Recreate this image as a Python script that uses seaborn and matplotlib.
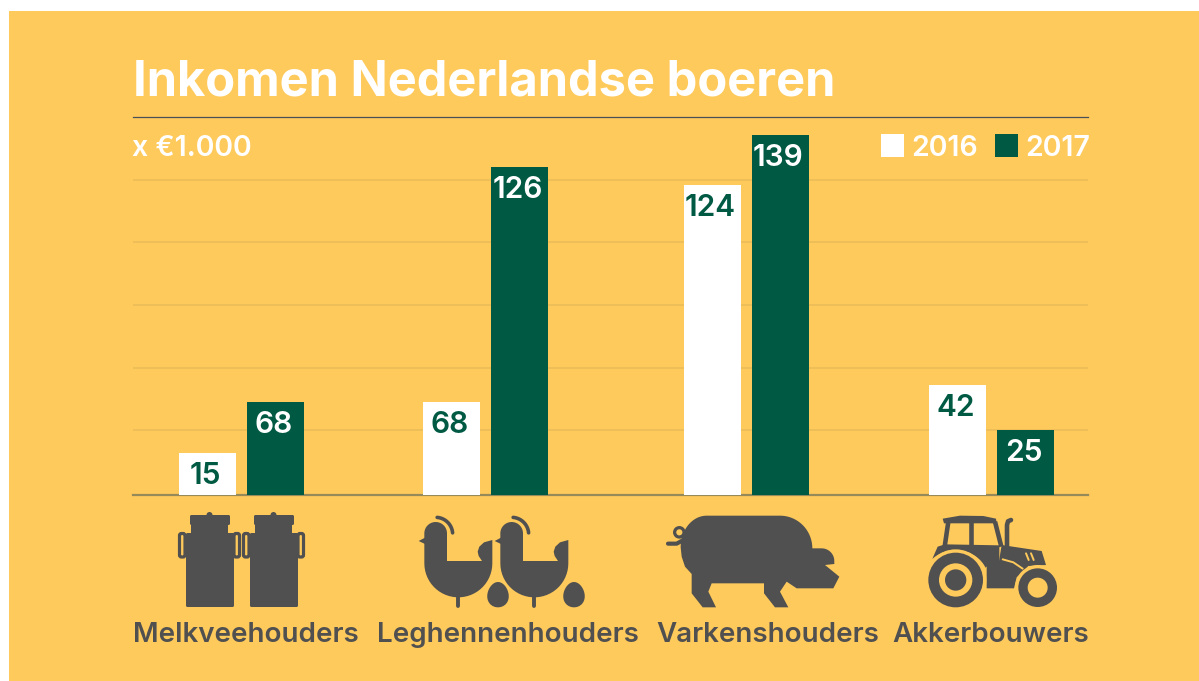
import numpy as np
import matplotlib
matplotlib.use("Agg")
import matplotlib.pyplot as plt
import pandas as pd
import seaborn as sns
from matplotlib.patches import Circle, Polygon, Rectangle, FancyBboxPatch

categories = ["Melkveehouders", "Leghennenhouders", "Varkenshouders", "Akkerbouwers"]
years = ["2016", "2017"]
# printed numbers
labels_2016 = [15, 68, 124, 42]
labels_2017 = [68, 126, 139, 25]
# heights as drawn: the printed 68s and the 124 stand lower than the scale says
heights_2016 = [16.2, 35.9, 119.7, 42.5]
heights_2017 = [35.9, 126.6, 139, 25]
grid_levels = [25, 49.2, 73.5, 97.7, 121.7]

# x axis runs in reference pixels
group_x = [241.5, 485.5, 746.5, 991.5]
label_x = [246, 507.5, 768, 991]

W, H = 1199, 681
YELLOW = "#FFCA5C"
GREEN = "#005A43"
DARK = "#505050"
FONT = ["Inter", "DejaVu Sans"]

sns.set_theme(style="white")
plt.rcParams["font.family"] = FONT

df = pd.DataFrame({
    "x": group_x * 2,
    "height": heights_2016 + heights_2017,
    "year": [years[0]] * 4 + [years[1]] * 4,
})

fig = plt.figure(figsize=(W / 100, H / 100), dpi=100, facecolor="white")
fig.patches.append(Rectangle((9 / W, 0), 1, 670 / H, transform=fig.transFigure,
                             facecolor=YELLOW, edgecolor="none", zorder=-1))

ax = fig.add_axes([133 / W, (H - 495) / H, 955 / W, 378.5 / H], facecolor="none")
sns.barplot(data=df, x="x", y="height", hue="year", hue_order=years,
            palette={"2016": "white", "2017": GREEN}, native_scale=True,
            width=136 / 244, gap=0.16, legend=False, saturation=1, linewidth=0, ax=ax, zorder=3)
ax.set_xlim(133, 1088)
ax.set_ylim(0, 378.5 / 2.59)
ax.set_xlabel("")
ax.set_ylabel("")
ax.set_yticks(grid_levels, [""] * 5)
ax.yaxis.grid(True, color="#EDBD58", linewidth=1.3)
ax.set_axisbelow(True)
ax.set_xticks(label_x, categories)
ax.tick_params(axis="x", length=0, pad=91.5, labelsize=20, labelcolor=DARK)
ax.tick_params(axis="y", length=0)
for lab in ax.get_xticklabels():
    lab.set_fontweight(600)
for s in ["left", "right"]:
    ax.spines[s].set_visible(False)
ax.spines["top"].set_color("#4A5058")
ax.spines["top"].set_linewidth(0.9)
ax.spines["bottom"].set_color("#96895A")
ax.spines["bottom"].set_linewidth(1.6)

for cont, labs, col in zip(ax.containers, [labels_2016, labels_2017], [GREEN, "white"]):
    for t in ax.bar_label(cont, labels=[str(v) for v in labs], padding=-16.5,
                          color=col, fontsize=21.5, fontweight=600):
        t.set_va("center")
        t.xyann = (-1.5, t.xyann[1])

# overlay in pixel coordinates for texts and pictograms
ov = fig.add_axes([0, 0, 1, 1], facecolor="none")
ov.set_xlim(0, W)
ov.set_ylim(H, 0)
ov.axis("off")

ov.text(133, 82, "Inkomen Nederlandse boeren", color="white", fontsize=35.2,
        fontweight=700, va="center", ha="left")
ov.text(132, 148, "x €1.000", color="white", fontsize=20.5, fontweight=600,
        va="center", ha="left")
for x0, year in zip([881, 995], years):
    ov.add_patch(Rectangle((x0, 134), 23, 23, facecolor="white" if year == "2016" else GREEN,
                           edgecolor="none"))
    ov.text(x0 + 30, 148, year, color="white", fontsize=20.5, fontweight=600,
            va="center", ha="left")


def arc_pts(cx, cy, rx, ry, a0, a1, n=30):
    a = np.radians(np.linspace(a0, a1, n))
    return np.column_stack([cx + rx * np.cos(a), cy + ry * np.sin(a)])


def zoomed(pts, ox):
    # zoom crops were 3x, with y starting at 490
    return np.asarray(pts) / 3 + [ox, 490]


def can(dx):
    ov.add_patch(FancyBboxPatch((186 + dx, 533), 48, 74, boxstyle="round,pad=0,rounding_size=1.5",
                                facecolor=DARK, edgecolor="none"))
    ov.add_patch(Rectangle((191 + dx, 522), 37, 14, facecolor=DARK, edgecolor="none"))
    ov.add_patch(FancyBboxPatch((190 + dx, 515), 40, 10, boxstyle="round,pad=0,rounding_size=1.5",
                                facecolor=DARK, edgecolor="none"))
    ov.add_patch(Circle((209.5 + dx, 515), 3, facecolor=DARK, edgecolor="none"))
    for x0 in (179.5, 234):
        ov.add_patch(FancyBboxPatch((x0 + dx, 533.5), 5.5, 23.5, boxstyle="round,pad=0,rounding_size=2",
                                    facecolor="none", edgecolor=DARK, linewidth=2.3))


def chicken(dz):
    body = np.vstack([
        arc_pts(917, 130, 34, 34, 180, 360),
        [[951, 213], [1056, 213]],
        [[1046, 198], [1043, 185], [1048, 170], [1062, 157], [1087, 150]],
        arc_pts(985, 220, 102, 102, 0, 180),
    ])
    ov.add_patch(Polygon(zoomed(body + [dz, 0], 130), facecolor=DARK, edgecolor="none"))
    ov.add_patch(Polygon(zoomed(np.array([[885, 143], [866, 153], [885, 162]]) + [dz, 0], 130),
                         facecolor=DARK, edgecolor="none"))
    ov.plot(*zoomed(arc_pts(917, 133, 51, 51, -85, -5) + [dz, 0], 130).T, color=DARK, lw=2.6,
            solid_capstyle="round")
    ov.plot(*zoomed(np.array([[985, 322], [985, 347]]) + [dz, 0], 130).T, color=DARK, lw=2.8,
            solid_capstyle="round")
    # egg, narrower at the top
    t = np.linspace(0, 2 * np.pi, 60)
    egg = np.column_stack([1104 + dz + 32 * np.cos(t) * (1 + 0.13 * np.sin(t)),
                           314 + 38 * np.sin(t)])
    ov.add_patch(Polygon(zoomed(egg, 130), facecolor=DARK, edgecolor="none"))


can(0)
can(64)
chicken(0)
chicken(228)

# pig
pig = np.vstack([
    arc_pts(200, 172, 78, 95, 180, 270),
    arc_pts(420, 175, 97, 98, 270, 360),
    [[545, 175]],
    arc_pts(545, 213, 38, 38, -90, 0)[::3],
    [[583, 222], [555, 225], [598, 260], [580, 295], [470, 295], [440, 275],
     [420, 305], [445, 352], [405, 352], [372, 310], [372, 280], [215, 280],
     [205, 305], [228, 352], [188, 352], [155, 310], [155, 252], [135, 230], [125, 200]],
])
ov.add_patch(Polygon(zoomed(pig, 640), facecolor=DARK, edgecolor="none"))
cx, cy = zoomed([[118, 127]], 640)[0]
ov.add_patch(Circle((cx, cy), 4.7, facecolor="none", edgecolor=DARK, linewidth=2.3))
ov.plot(*zoomed([[84, 161], [110, 161], [130, 150]], 640).T, color=DARK, lw=3, solid_capstyle="round")

# tractor
fender = np.vstack([
    [[882, 195], [893, 170], [915, 163], [1078, 166], [1078, 225], [1045, 225]],
    arc_pts(947, 272, 99, 92, -25, -135),
])
ov.add_patch(Polygon(zoomed(fender, 640), facecolor=DARK, edgecolor="none"))
bonnet = [[1085, 165], [1205, 183], [1218, 225], [1165, 228], [1130, 262], [1122, 295],
          [1040, 295], [1040, 225], [1075, 225]]
ov.add_patch(Polygon(zoomed(bonnet, 640), facecolor=DARK, edgecolor="none"))
roof = [[908, 86], [960, 77], [1030, 78], [1068, 86], [1070, 100], [912, 100]]
ov.add_patch(Polygon(zoomed(roof, 640), facecolor=DARK, edgecolor="none"))
for seg in ([[925, 95], [914, 170]], [[993, 95], [993, 170]], [[1065, 95], [1084, 170]]):
    ov.plot(*zoomed(seg, 640).T, color=DARK, lw=3.3, solid_capstyle="butt")
ov.plot(*zoomed([[1101, 168], [1101, 105], [1104, 94], [1113, 90]], 640).T, color=DARK, lw=3.3,
        solid_capstyle="round")
ov.plot(*zoomed([[1088, 208], [1120, 217], [1148, 236]], 640).T, color=YELLOW, lw=1.4)
for seg in ([[1158, 190], [1166, 210]], [[1173, 190], [1181, 210]]):
    ov.plot(*zoomed(seg, 640).T, color=YELLOW, lw=1.4)
for z, r, c in [((947, 270), 92, YELLOW), ((947, 270), 82, DARK), ((947, 270), 50, YELLOW),
                ((947, 270), 32, DARK), ((1193, 293), 68, YELLOW), ((1193, 293), 58, DARK),
                ((1193, 293), 30, YELLOW)]:
    ov.add_patch(Circle(zoomed([z], 640)[0], r / 3, facecolor=c, edgecolor="none"))

fig.savefig("out.png", dpi=100, facecolor="white")
